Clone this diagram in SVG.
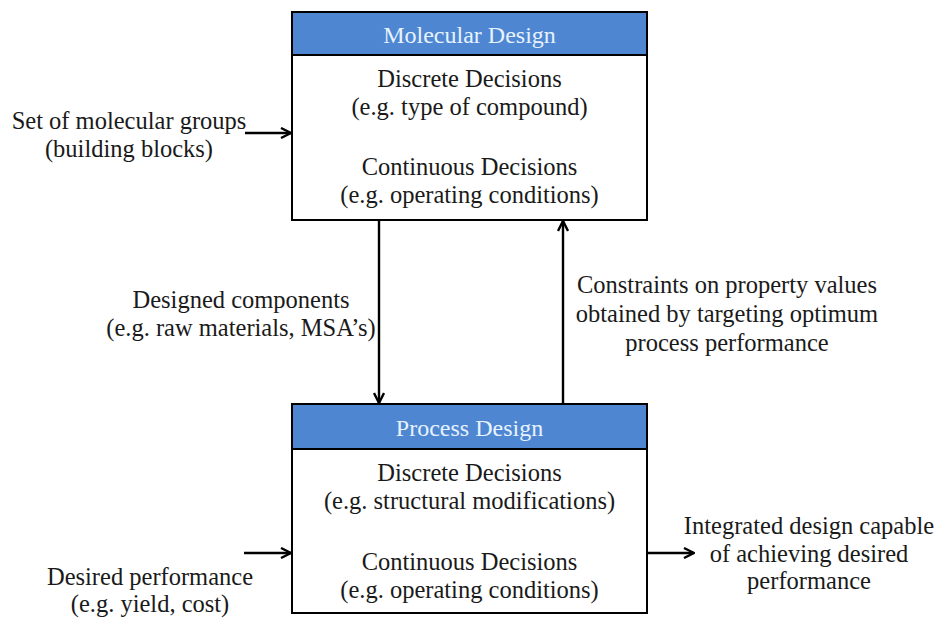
<svg xmlns="http://www.w3.org/2000/svg" width="937" height="619" viewBox="0 0 937 619">
<defs>
<marker id="arr" viewBox="0 0 12 12" refX="11" refY="6" markerWidth="12" markerHeight="12" markerUnits="userSpaceOnUse" orient="auto">
<path d="M1,1 L11,6 L1,11" fill="none" stroke="#000" stroke-width="2.4" stroke-linejoin="miter"/>
</marker>
<style>
text{font-family:"Liberation Serif","Times New Roman",serif;font-size:24.5px;fill:#1a1a1a;text-anchor:middle}
.hd{fill:#e6f3ff;font-size:24px}
.box{fill:#fff;stroke:#000;stroke-width:2}
.hdr{fill:#4f86d1;stroke:#000;stroke-width:2}
.c{fill:none;stroke:#000;stroke-width:2.4}
</style>
</defs>
<rect width="937" height="619" fill="#fff"/>
<g id="molecular">
<rect class="box" x="292" y="12" width="355" height="208"/>
<rect class="hdr" x="292" y="12" width="355" height="43"/>
<text class="hd" x="469.5" y="43">Molecular Design</text>
<text x="469.5" y="87">Discrete Decisions</text>
<text x="469.5" y="115">(e.g. type of compound)</text>
<text x="469.5" y="175">Continuous Decisions</text>
<text x="469.5" y="203">(e.g. operating conditions)</text>
</g>
<g id="process">
<rect class="box" x="292" y="404" width="355" height="209"/>
<rect class="hdr" x="292" y="404" width="355" height="45"/>
<text class="hd" x="469.5" y="436">Process Design</text>
<text x="469.5" y="481">Discrete Decisions</text>
<text x="469.5" y="509">(e.g. structural modifications)</text>
<text x="469.5" y="570">Continuous Decisions</text>
<text x="469.5" y="598">(e.g. operating conditions)</text>
</g>
<g id="labels">
<text x="129" y="129">Set of molecular groups</text>
<text x="129" y="157">(building blocks)</text>
<text x="241" y="308">Designed components</text>
<text x="241" y="336">(e.g. raw materials, MSA’s)</text>
<text x="727" y="293">Constraints on property values</text>
<text x="727" y="322">obtained by targeting optimum</text>
<text x="727" y="351">process performance</text>
<text x="150" y="585">Desired performance</text>
<text x="150" y="612">(e.g. yield, cost)</text>
<text x="809" y="534">Integrated design capable</text>
<text x="809" y="562">of achieving desired</text>
<text x="809" y="589">performance</text>
</g>
<g id="connectors">
<line class="c" x1="245" y1="133" x2="291" y2="133" marker-end="url(#arr)"/>
<line class="c" x1="379" y1="221" x2="379" y2="403" marker-end="url(#arr)"/>
<line class="c" x1="563" y1="403" x2="563" y2="221" marker-end="url(#arr)"/>
<line class="c" x1="244" y1="553" x2="291" y2="553" marker-end="url(#arr)"/>
<line class="c" x1="648" y1="553" x2="694" y2="553" marker-end="url(#arr)"/>
</g>
</svg>
